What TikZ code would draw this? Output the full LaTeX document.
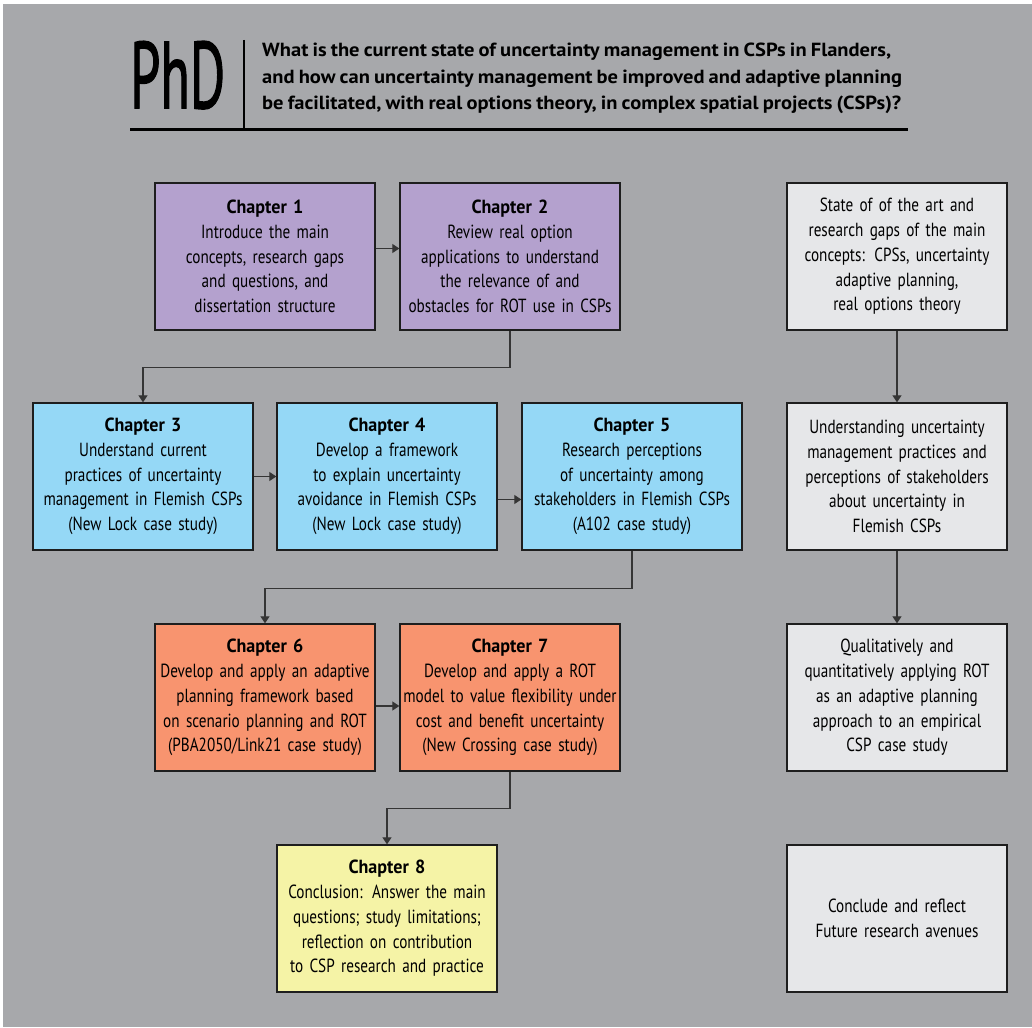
\documentclass[tikz,border=0pt]{standalone}
\usepackage{fontspec}
\setmainfont{PT Sans}[FakeStretch=0.80, WordSpace=0.8,
  BoldFeatures={FakeStretch=0.95, WordSpace=0.8}]
\newfontfamily\phdfont{PT Sans}[FakeBold=1.6]
\newfontfamily\questionfont{PT Sans Bold}[FakeStretch=1.08, WordSpace=0.8]
\usetikzlibrary{arrows.meta,positioning,calc}
\definecolor{bggray}{HTML}{A7A8AB}
\definecolor{purplebox}{HTML}{B4A1CE}
\definecolor{bluebox}{HTML}{95D8F6}
\definecolor{orangebox}{HTML}{F8946F}
\definecolor{yellowbox}{HTML}{F5F3A6}
\definecolor{greybox}{HTML}{E6E7E9}
\definecolor{edge}{HTML}{1E1E1E}
\tikzset{
  box/.style={draw=edge, line width=1.3pt, minimum width=220pt, minimum height=147pt,
    text width=216pt, align=center, inner sep=0pt, font=\fontsize{19}{24.8}\selectfont},
  chbox/.style={box},
  qline/.style={anchor=base west, inner sep=0pt, font=\fontsize{19}{22}\questionfont},
  link/.style={draw=edge!90, line width=1.2pt, -{Triangle[length=7pt,width=9pt]}},
}
\newcommand{\chap}[1]{\textbf{Chapter #1}\\}
\begin{document}
\begin{tikzpicture}[x=1pt,y=-1pt]
\useasboundingbox (0,0) rectangle (1032,1027);
\fill[bggray] (3,4) rectangle (1032,1027);

% title block
\node[anchor=north west, inner sep=0pt] (phd) at (130,41)
  {\resizebox{95pt}{67pt}{\phdfont PhD}};
\draw[line width=2pt] (244,40) -- (244,130);
\draw[line width=3pt] (130,130) -- (908,130);
\node[qline] (q1) at (262,57)
  {What is the current state of uncertainty management in CSPs in Flanders,};
\node[qline] (q2) at (262,83.5)
  {and how can uncertainty management be improved and adaptive planning};
\node[qline] (q3) at (262,110)
  {be facilitated, with real options theory, in complex spatial projects (CSPs)?};

% chapter boxes
\node[chbox, fill=purplebox] (ch1) at (265,256.5)
  {\chap{1}Introduce the main\\concepts, research gaps\\and questions, and\\dissertation structure};
\node[chbox, fill=purplebox] (ch2) at (510,256.5)
  {\chap{2}Review real option\\applications to understand\\the relevance of and\\obstacles for ROT use in CSPs};
\node[chbox, fill=bluebox] (ch3) at (143,476.5)
  {\chap{3}Understand current\\practices of uncertainty\\management in Flemish CSPs\\(New Lock case study)};
\node[chbox, fill=bluebox] (ch4) at (387,476.5)
  {\chap{4}Develop a framework\\to explain uncertainty\\avoidance in Flemish CSPs\\(New Lock case study)};
\node[chbox, fill=bluebox] (ch5) at (632,476.5)
  {\chap{5}Research perceptions\\of uncertainty among\\stakeholders in Flemish CSPs\\(A102 case study)};
\node[chbox, fill=orangebox] (ch6) at (265,697.5)
  {\chap{6}Develop and apply an adaptive\\planning framework based\\on scenario planning and ROT\\(PBA2050/Link21 case study)};
\node[chbox, fill=orangebox] (ch7) at (510,697.5)
  {\chap{7}Develop and apply a ROT\\model to value flexibility under\\cost and benefit uncertainty\\(New Crossing case study)};
\node[chbox, fill=yellowbox] (ch8) at (387,918.5)
  {\chap{8}Conclusion: Answer the main\\questions; study limitations;\\reflection on contribution\\to CSP research and practice};

% summary column
\node[box, fill=greybox] (s1) at (897,256.5)
  {State of of the art and\\research gaps of the main\\concepts: CPSs, uncertainty\\adaptive planning,\\real options theory};
\node[box, fill=greybox] (s2) at (897,476.5)
  {Understanding uncertainty\\management practices and\\perceptions of stakeholders\\about uncertainty in\\Flemish CSPs};
\node[box, fill=greybox] (s3) at (897,697.5)
  {Qualitatively and\\quantitatively applying ROT\\as an adaptive planning\\approach to an empirical\\CSP case study};
\node[box, fill=greybox] (s4) at (897,918.5)
  {Conclude and reflect\\Future research avenues};

% connectors
\draw[link] ([yshift=8pt]ch1.east) -- ([yshift=8pt]ch2.west);
\draw[link] (ch3.east) -- (ch4.west);
\draw[link] ([yshift=-23pt]ch4.east) -- ([yshift=-23pt]ch5.west);
\draw[link] ([yshift=-8.5pt]ch6.east) -- ([yshift=-8.5pt]ch7.west);
\draw[link] (ch2.south) -- ++(0,37) -| (ch3.north);
\draw[link] (ch5.south) -- ++(0,38) -| (ch6.north);
\draw[link] (ch7.south) -- ++(0,37) -| (ch8.north);
\draw[link] (s1) -- (s2);
\draw[link] (s2) -- (s3);
\end{tikzpicture}
\end{document}
